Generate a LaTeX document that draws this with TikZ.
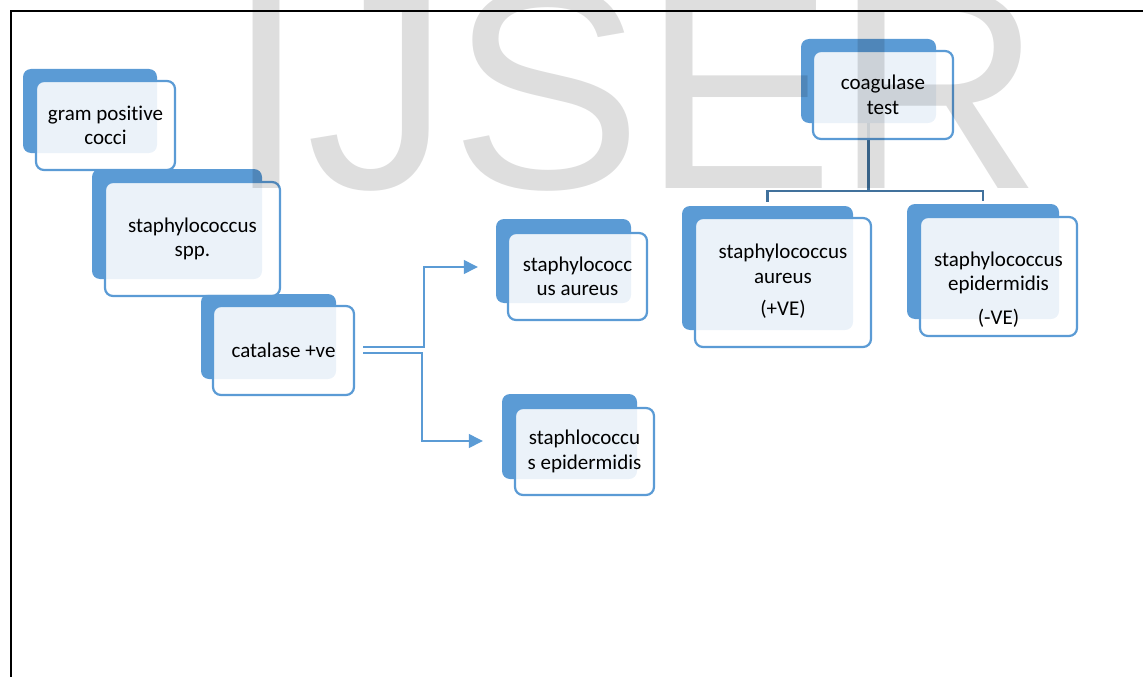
\documentclass[tikz,border=0pt]{standalone}
\usepackage{fontspec}
\setmainfont{Carlito}[Ligatures=NoCommon]
\newfontfamily\wmfont{Liberation Sans}
\usetikzlibrary{fit,arrows.meta,calc}
\definecolor{acc}{RGB}{91,155,213}
\definecolor{treeblue}{RGB}{65,113,156}
\begin{document}
\begin{tikzpicture}[x=1pt,y=-1pt,
  backbox/.style={fill=acc, draw=none, rounded corners=8pt, inner sep=0pt},
  frontbox/.style={fill=white, fill opacity=0.88, draw=acc, draw opacity=1, line width=2.2pt, rounded corners=8pt, inner sep=0pt},
  lbl/.style={align=center, font=\fontsize{21}{24.5}\selectfont, text=black, inner sep=0pt},
  arr/.style={draw=acc, line width=1.3pt, -{Triangle[length=14pt,width=14pt]}},
  tree/.style={draw=treeblue, line width=2.5pt},
  wm/.style={anchor=base west, inner sep=0pt, font=\wmfont\fontsize{288}{288}\selectfont, text=black, text opacity=0.13}
]
\useasboundingbox (0,0) rectangle (1143,677);

% back boxes
\node[backbox, fit={(23,69)(157,153)}] (b1) {};
\node[backbox, fit={(92,169)(262,279)}] (b2) {};
\node[backbox, fit={(201,294)(336,379)}] (b3) {};
\node[backbox, fit={(496,219)(631,303)}] (b4) {};
\node[backbox, fit={(502,394)(637,479)}] (b5) {};
\node[backbox, fit={(801,39)(936,123)}] (b6) {};
\node[backbox, fit={(682,206)(853,330)}] (b7) {};
\node[backbox, fit={(907,204)(1059,319)}] (b8) {};

% tree connectors
\draw[tree] (b6.south) -- ++(0,68) coordinate (bar);
\draw[tree] ([yshift=4pt]b7.north) |- (bar) -| ([yshift=3pt]b8.north);

% front boxes
\node[frontbox, fit={(36,81)(175,170)}] (f1) {};
\node[frontbox, fit={(105,182)(280,296)}] (f2) {};
\node[frontbox, fit={(213,306)(354,395)}] (f3) {};
\node[frontbox, fit={(508,233)(647,320)}] (f4) {};
\node[frontbox, fit={(515,408)(654,495)}] (f5) {};
\node[frontbox, fit={(813,51)(953,139)}] (f6) {};
\node[frontbox, fit={(695,218)(871,347)}] (f7) {};
\node[frontbox, fit={(920,217)(1077,336)}] (f8) {};

% arrows
\draw[arr] ([xshift=8pt,yshift=3.5pt]f3.east) -- ++(61,0) |- ([xshift=-18pt,yshift=-6pt]b4.west);
\draw[arr] ([xshift=8pt,yshift=-2.5pt]f3.east) -- ++(59,0) |- ([xshift=-19pt,yshift=-4.5pt]b5.west);

% labels
\node[lbl] (t1) at (f1.center) {gram positive\\cocci};
\node[lbl] (t2) at (f2.center) {staphylococcus\\spp.};
\node[lbl] (t3) at (f3.center) {catalase +ve};
\node[lbl] (t4) at (f4.center) {staphylococc\\us aureus};
\node[lbl] (t5) at (f5.center) {staphlococcu\\s epidermidis};
\node[lbl] (t6) at (f6.center) {coagulase\\test};
\node[lbl] (t7) at ([yshift=1pt]f7.center) {staphylococcus\\aureus\\[8pt](+VE)};
\node[lbl] (t8) at ([yshift=-13pt]f8.center) {staphylococcus\\epidermidis\\[9pt](-VE)};

% watermark
\node[wm] (wmark) at (226,188) {IJSER};

% frame
\draw[line width=2pt] (11,677) -- (11,11) -- (1143,11);
\end{tikzpicture}
\end{document}
